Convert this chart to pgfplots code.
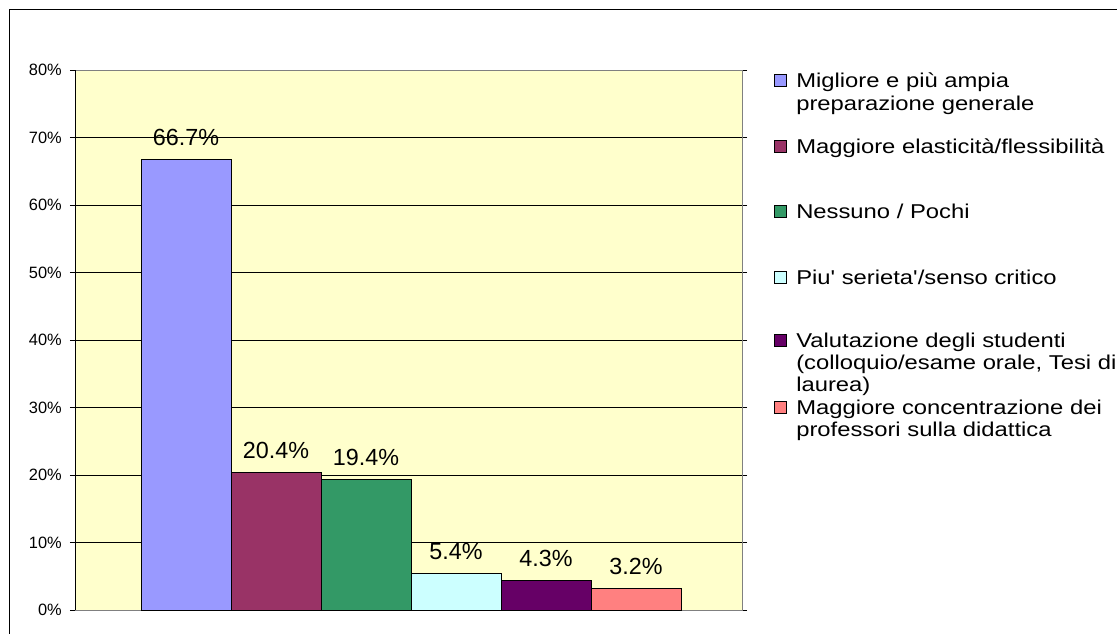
\documentclass[border=0pt]{standalone}
\usepackage{pgfplots}
\pgfplotsset{compat=1.18}
\usepackage{fontspec}
\setmainfont{Liberation Sans}
\newfontfamily\legfont{Liberation Sans}[FakeStretch=1.19]
\definecolor{c1}{HTML}{9999FF}
\definecolor{c2}{HTML}{993366}
\definecolor{c3}{HTML}{339966}
\definecolor{c4}{HTML}{CCFFFF}
\definecolor{c5}{HTML}{660066}
\definecolor{c6}{HTML}{FF8080}
\definecolor{bg}{HTML}{FFFFCC}
\definecolor{bordergray}{HTML}{808080}
\newcommand\lines[1]{\vtop{#1}}
\begin{document}
\begin{tikzpicture}
\useasboundingbox (0,0) rectangle (837.75pt,474.75pt);
\fill[white] (0,0) rectangle (837.75pt,474.75pt);
\draw[black, line width=0.75pt] (7.125pt,-5pt) -- (7.125pt,467.6pt) -- (850pt,467.6pt);
\begin{axis}[
  at={(56.25pt,17.25pt)}, anchor=south west,
  scale only axis, width=500.25pt, height=405pt,
  ybar=0pt, bar width=67.5pt,
  xmin=-1.0075, xmax=0.9925, ymin=0, ymax=80,
  xtick=\empty,
  ytick={0,10,20,30,40,50,60,70,80},
  yticklabels={0\%,10\%,20\%,30\%,40\%,50\%,60\%,70\%,80\%},
  ymajorgrids, grid style={black, line width=0.75pt},
  axis line style={draw=bordergray, line width=0.75pt},
  axis background/.style={fill=bg},
  tick align=outside, major tick length=3.75pt,
  ytick style={black, line width=0.75pt},
  yticklabel style={font=\fontsize{12.3}{14}\selectfont, inner sep=0pt, anchor=east, xshift=-6pt},
  nodes near coords, point meta=explicit symbolic,
  every node near coord/.append style={font=\fontsize{17.5}{20}\selectfont, anchor=base, yshift=10.5pt, inner sep=0pt},
  every axis plot/.append style={draw=black, line width=0.75pt},
]
\addplot[fill=c1] coordinates {(0,66.7) [66.7\%]};
\addplot[fill=c2] coordinates {(0,20.4) [20.4\%]};
\addplot[fill=c3] coordinates {(0,19.4) [19.4\%]};
\addplot[fill=c4] coordinates {(0,5.4) [5.4\%]};
\addplot[fill=c5] coordinates {(0,4.3) [4.3\%]};
\addplot[fill=c6] coordinates {(0,3.2) [3.2\%]};
\end{axis}
\draw[black, line width=0.75pt] (56.25pt,17.25pt) -- (56.25pt,422.25pt);
\begin{scope}[x=0.75pt, y=-0.75pt, yshift=474.75pt,
  lg/.style={anchor=base west, inner sep=0pt, font=\legfont\fontsize{15}{16.8}\selectfont}]
\filldraw[fill=c1, draw=black, line width=0.75pt] (774,75) rectangle (786,87);
\node[lg] at (796,88) {\lines{\hbox{Migliore e più ampia}\hbox{preparazione generale}}};
\filldraw[fill=c2, draw=black, line width=0.75pt] (774,141) rectangle (786,153);
\node[lg] at (796,154) {Maggiore elasticità/flessibilità};
\filldraw[fill=c3, draw=black, line width=0.75pt] (774,206) rectangle (786,218);
\node[lg] at (796,219) {Nessuno / Pochi};
\filldraw[fill=c4, draw=black, line width=0.75pt] (774,271) rectangle (786,283);
\node[lg] at (796,284) {Piu' serieta'/senso critico};
\filldraw[fill=c5, draw=black, line width=0.75pt] (774,334) rectangle (786,346);
\node[lg] at (796,347) {\lines{\hbox{Valutazione degli studenti}\hbox{(colloquio/esame orale, Tesi di}\hbox{laurea)}}};
\filldraw[fill=c6, draw=black, line width=0.75pt] (774,401) rectangle (786,413);
\node[lg] at (796,414) {\lines{\hbox{Maggiore concentrazione dei}\hbox{professori sulla didattica}}};
\end{scope}
\end{tikzpicture}
\end{document}
